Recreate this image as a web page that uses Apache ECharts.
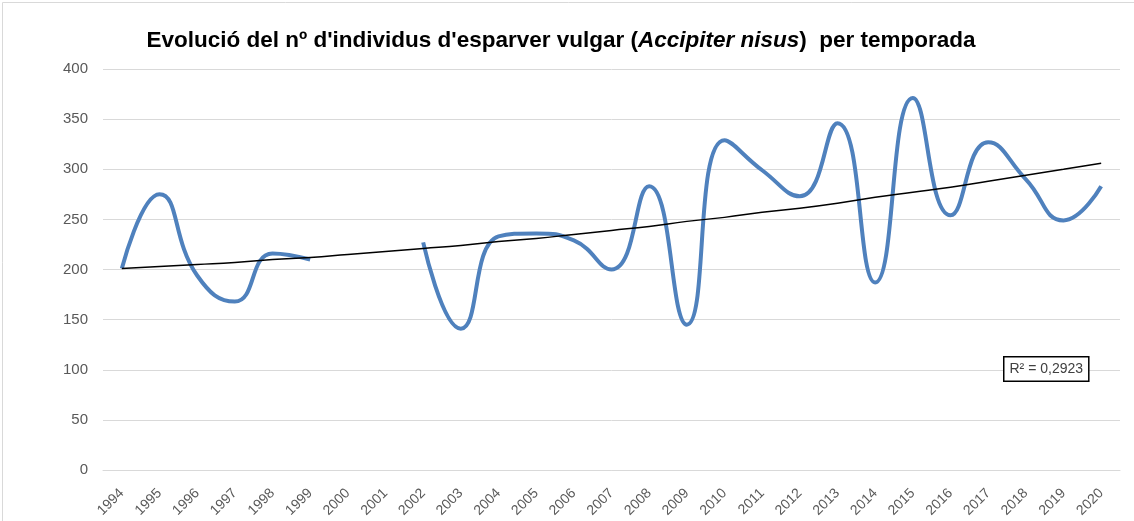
<!DOCTYPE html>
<html>
<head>
<meta charset="utf-8">
<script src="https://cdn.jsdelivr.net/npm/echarts@6/dist/echarts.min.js"></script>
<style>
  html, body { margin: 0; padding: 0; background: #fff; }
  #chart { width: 1134px; height: 521px; }
</style>
</head>
<body>
<div id="chart"></div>
<script>
// temporades
const years = ['1994', '1995', '1996', '1997', '1998', '1999', '2000', '2001', '2002', '2003',
  '2004', '2005', '2006', '2007', '2008', '2009', '2010', '2011', '2012', '2013',
  '2014', '2015', '2016', '2017', '2018', '2019', '2020'];
// nº d'individus (2000 i 2001 sense dades)
const individus = [201, 275, 194, 168, 216, 210, null, null, 227, 141,
  233, 236, 229, 200, 283, 145, 329, 299, 273, 346,
  187, 371, 254, 327, 290, 249, 283];
// línia de tendència llegida del gràfic
const tendencia = [201, 203, 205, 207, 210, 212, 215, 218, 221, 224,
  228, 231, 235, 239, 243, 248, 252, 257, 261, 266,
  272, 277, 282, 288, 294, 300, 306];
const yTicks = { min: 0, max: 400, interval: 50 };
const r2Text = 'R² = 0,2923';

const chart = echarts.init(document.getElementById('chart'));
const option = {
  animation: false,
  textStyle: { fontFamily: 'Liberation Sans, Arial, sans-serif' },
  title: {
    text: '{b|Evolució del nº d\'individus d\'esparver vulgar (}{i|Accipiter nisus}{b|)  per temporada}',
    left: 556,
    textAlign: 'center',
    top: 24,
    textStyle: {
      rich: {
        b: { fontSize: 22.5, fontWeight: 'bold', color: '#000', fontFamily: 'Liberation Sans' },
        i: { fontSize: 22.5, fontWeight: 'bold', fontStyle: 'italic', color: '#000', fontFamily: 'Liberation Sans' }
      }
    }
  },
  grid: { left: 103, right: 14, top: 69, bottom: 51 },
  xAxis: {
    type: 'category',
    data: years,
    boundaryGap: true,
    axisLine: { lineStyle: { color: '#d9d9d9', width: 1 } },
    axisTick: { show: false },
    axisLabel: { rotate: 45, color: '#595959', fontSize: 14, margin: 21, interval: 0 }
  },
  yAxis: {
    type: 'value',
    min: yTicks.min,
    max: yTicks.max,
    interval: yTicks.interval,
    axisLine: { show: false },
    axisTick: { show: false },
    axisLabel: { color: '#595959', fontSize: 15, margin: 15 },
    splitLine: { lineStyle: { color: '#d9d9d9', width: 1 } }
  },
  series: [
    {
      name: 'individus',
      type: 'line',
      data: individus,
      smooth: 0.5,
      connectNulls: false,
      showSymbol: false,
      lineStyle: { color: '#4f81bd', width: 4 },
      itemStyle: { color: '#4f81bd' },
      z: 2
    },
    {
      name: 'tendència',
      type: 'line',
      data: tendencia,
      smooth: true,
      showSymbol: false,
      lineStyle: { color: '#000', width: 1.5 },
      z: 3
    }
  ],
  graphic: [
    {
      type: 'rect',
      shape: { x: 2.5, y: 2.5, width: 1140, height: 530 },
      style: { fill: 'none', stroke: '#d9d9d9', lineWidth: 1 },
      silent: true
    },
    {
      type: 'text',
      left: 1003,
      top: 356,
      style: {
        text: r2Text,
        fontSize: 14,
        fill: '#404040',
        fontFamily: 'Liberation Sans',
        backgroundColor: '#fff',
        borderColor: '#000',
        borderWidth: 1.5,
        padding: [5, 5, 4, 5]
      },
      z: 10
    }
  ]
};
chart.setOption(option);
</script>
</body>
</html>
